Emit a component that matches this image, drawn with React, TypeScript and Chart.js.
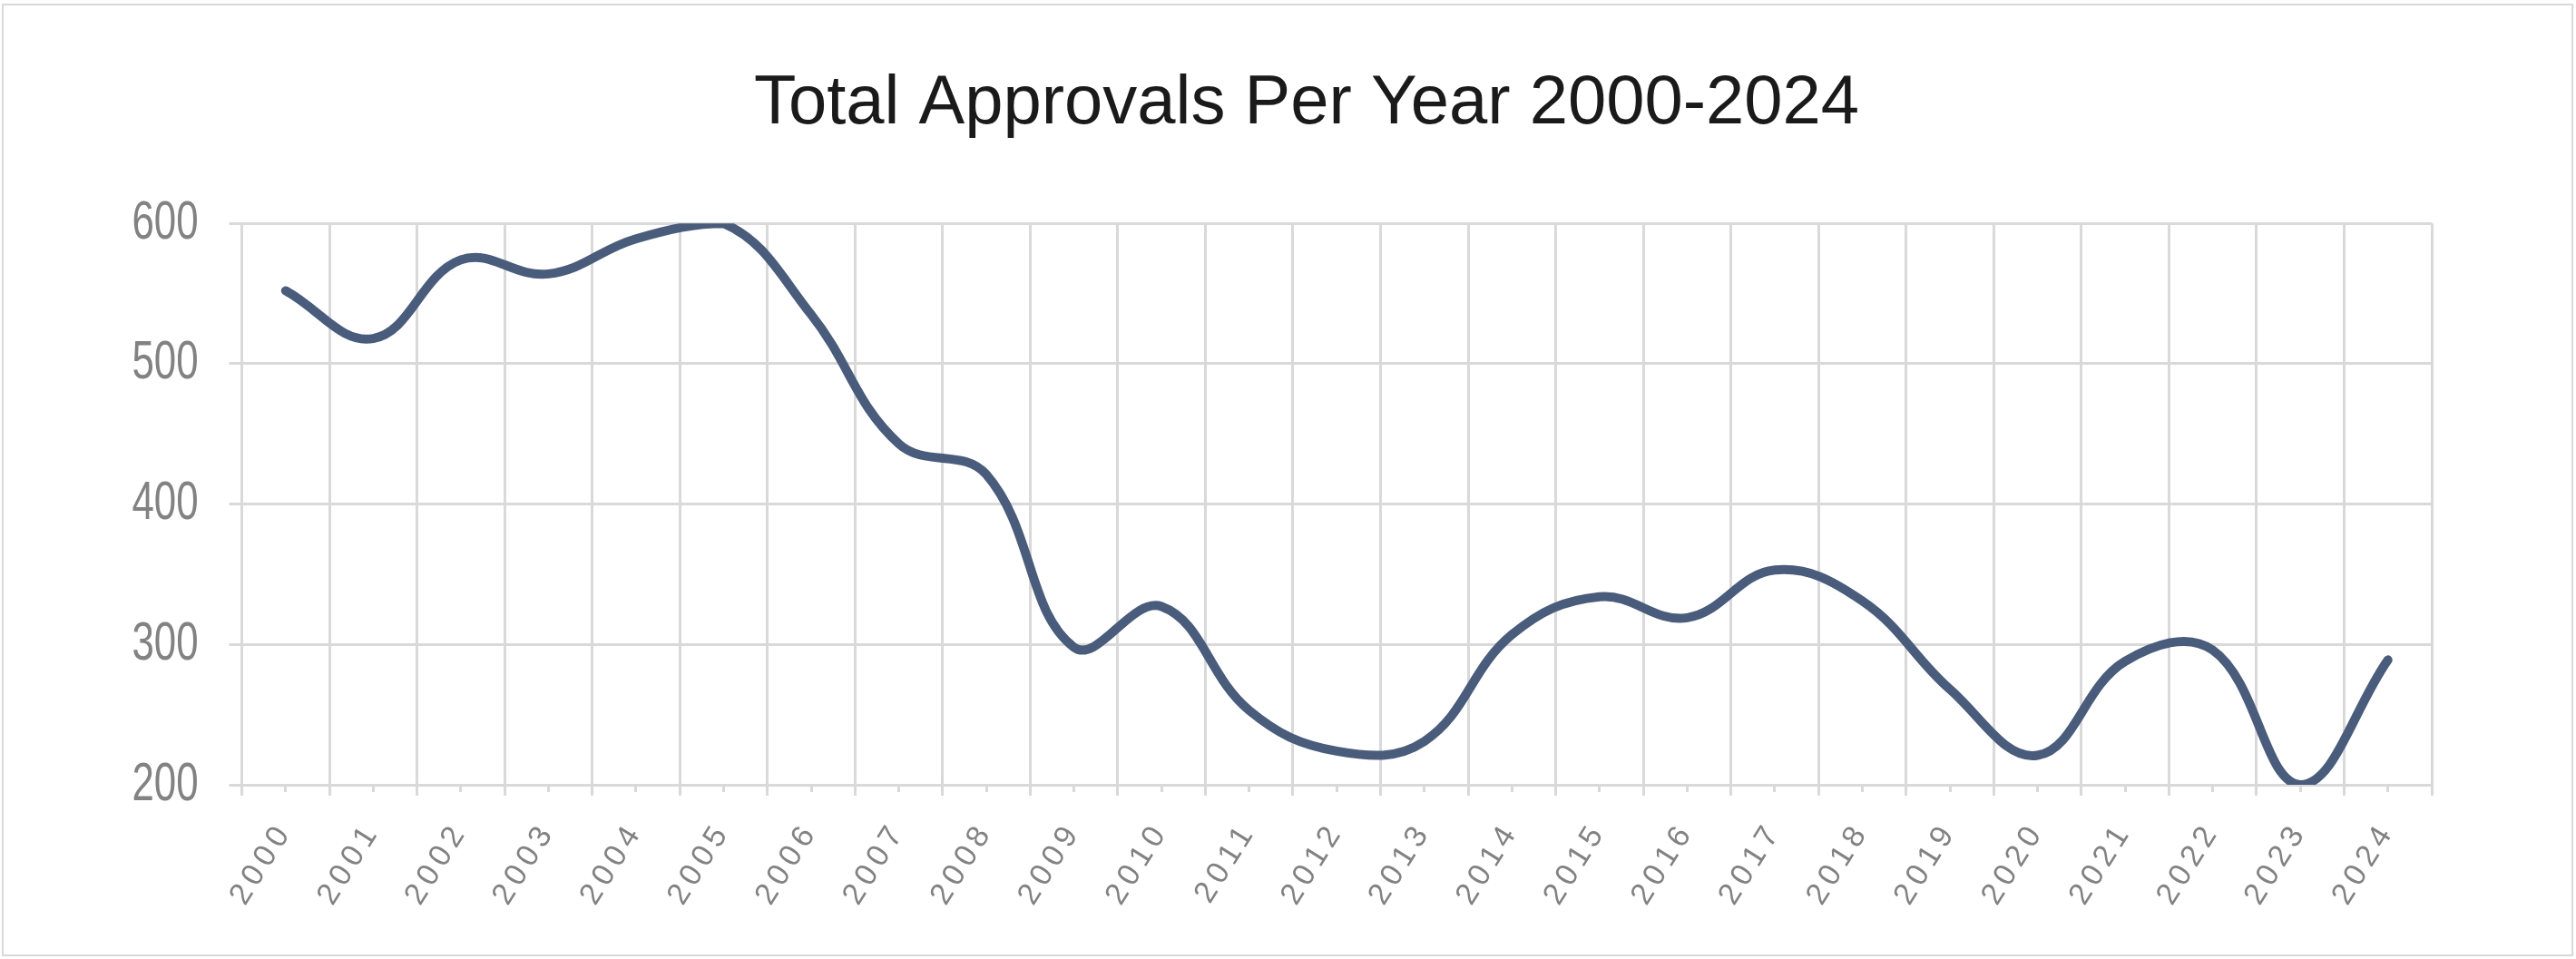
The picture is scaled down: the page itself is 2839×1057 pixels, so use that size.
import React, { useEffect, useRef } from 'react';
import { Chart, registerables, CategoryScale, LinearScale } from 'chart.js';

// ---- data ----
const chartTitle = 'Total Approvals Per Year 2000-2024';
const years = [
  '2000', '2001', '2002', '2003', '2004', '2005', '2006', '2007', '2008', '2009',
  '2010', '2011', '2012', '2013', '2014', '2015', '2016', '2017', '2018', '2019',
  '2020', '2021', '2022', '2023', '2024',
];
const approvals = [
  552, 518, 574, 564, 589, 600, 535, 443, 421, 298,
  327, 253, 224, 231, 307, 334, 319, 353, 331, 268,
  221, 288, 296, 200, 289,
];
const yMin = 200;
const yMax = 600;
const yStep = 100;

// ---- styling constants ----
const W = 2839;
const H = 1057;
const LINE_COLOR = '#4A5C7B';
const GRID_COLOR = '#d9d9d9';
const LABEL_COLOR = '#828282';
const Y_SQUEEZE = 0.73;
const X_LETTER_SPACING = '6px';

class SqueezedLinearScale extends LinearScale {
  static id = 'squeezedLinear';
  _computeLabelArea() {
    return undefined;
  }
  drawLabels(chartArea: any) {
    const ctx: any = (this as any).ctx;
    const o: any = (this as any).options;
    const tl = o.grid && o.grid.drawTicks !== false ? o.grid.tickLength : 0;
    const ax = (this as any).right - tl - o.ticks.padding;
    ctx.save();
    ctx.translate(ax, 0);
    ctx.scale(Y_SQUEEZE, 1);
    ctx.translate(-ax, 0);
    super.drawLabels(chartArea);
    ctx.restore();
  }
}

class SpacedCategoryScale extends CategoryScale {
  static id = 'spacedCategory';
  _computeLabelArea() {
    return undefined;
  }
  drawLabels(chartArea: any) {
    const ctx: any = (this as any).ctx;
    ctx.save();
    ctx.letterSpacing = X_LETTER_SPACING;
    super.drawLabels(chartArea);
    ctx.restore();
  }
}

Chart.register(...registerables, SqueezedLinearScale, SpacedCategoryScale);

export default function App() {
  const ref = useRef<HTMLCanvasElement | null>(null);

  useEffect(() => {
    if (!ref.current) return;
    const chart = new Chart(ref.current, {
      type: 'line',
      data: {
        labels: years,
        datasets: [
          {
            label: 'Total Approvals',
            data: approvals,
            borderColor: LINE_COLOR,
            backgroundColor: LINE_COLOR,
            borderWidth: 10,
            borderCapStyle: 'round',
            borderJoinStyle: 'round',
            pointRadius: 0,
            pointHoverRadius: 0,
            tension: 0.4,
            fill: false,
            xAxisID: 'x',
            yAxisID: 'y',
          },
        ],
      },
      options: {
        animation: false,
        responsive: false,
        devicePixelRatio: 1,
        layout: { padding: { left: 200, right: 159, top: 0, bottom: 0 } },
        plugins: {
          legend: { display: false },
          tooltip: { enabled: false },
          title: {
            display: true,
            text: chartTitle,
            color: '#1a1a1a',
            font: { family: "'Liberation Sans', Arial, sans-serif", size: 76, weight: 'normal' },
            padding: { top: 69, bottom: 86 },
          },
        },
        scales: {
          x: {
            type: 'spacedCategory' as any,
            position: 'bottom',
            offset: true,
            weight: 0,
            grid: {
              offset: true,
              color: GRID_COLOR,
              lineWidth: 3,
              drawTicks: true,
              tickLength: 12,
              tickColor: GRID_COLOR,
            },
            border: { display: true, color: GRID_COLOR, width: 3 },
            ticks: {
              color: LABEL_COLOR,
              font: { family: "'Liberation Sans', Arial, sans-serif", size: 34 },
              minRotation: 58,
              maxRotation: 58,
              autoSkip: false,
              padding: 22,
            },
            afterFit: (s: any) => {
              s.height = 192;
            },
          },
          x2: {
            type: 'category',
            position: 'bottom',
            offset: true,
            weight: -1,
            grid: {
              offset: false,
              drawOnChartArea: false,
              color: GRID_COLOR,
              lineWidth: 3,
              tickLength: 8,
            },
            border: { display: false },
            ticks: { display: false },
            afterFit: (s: any) => {
              s.height = 0;
            },
          },
          y: {
            type: 'squeezedLinear' as any,
            position: 'left',
            min: yMin,
            max: yMax,
            grid: {
              color: GRID_COLOR,
              lineWidth: 3,
              drawTicks: true,
              tickLength: 14,
              tickColor: GRID_COLOR,
            },
            border: { display: true, color: GRID_COLOR, width: 3 },
            ticks: {
              stepSize: yStep,
              color: LABEL_COLOR,
              font: { family: "'Liberation Sans', Arial, sans-serif", size: 60 },
              padding: 34,
            },
            afterFit: (s: any) => {
              s.width = 66.5;
            },
          },
        },
      },
    });
    return () => chart.destroy();
  }, []);

  return (
    <div style={{ position: 'fixed', left: 0, top: 0, width: W, height: H, background: '#ffffff' }}>
      <canvas ref={ref} width={W} height={H} style={{ position: 'absolute', left: 0, top: 0, width: W, height: H, display: 'block' }} />
      <div
        style={{
          position: 'absolute',
          left: 2,
          top: 4,
          width: 2834,
          height: 1050,
          border: '2px solid #d9d9d9',
          boxSizing: 'border-box',
          pointerEvents: 'none',
        }}
      />
    </div>
  );
}
